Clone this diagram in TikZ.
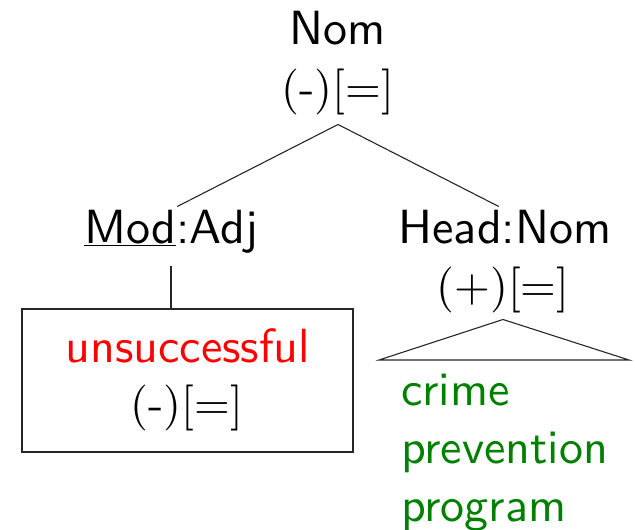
\documentclass[tikz,border=0pt]{standalone}
\usepackage{fontspec}
% 10pt design sizes, scaled up
\setsansfont{lmsans10-regular.otf}
\setmainfont{lmroman10-regular.otf}
\definecolor{leafgreen}{RGB}{0,128,0}
\definecolor{leafred}{RGB}{255,0,0}
\begin{document}
\begin{tikzpicture}[x=1pt,y=-1pt,
    tok/.style={inner sep=0pt, outer sep=0pt, font=\fontsize{48}{58}\selectfont\sffamily},
    feat/.style={inner sep=0pt, outer sep=0pt, font=\fontsize{46}{58}\selectfont\rmfamily},
    branch/.style={draw=black!85, line width=1.1pt},
    leafbox/.style={draw=black!85, line width=1.2pt, minimum width=331pt, minimum height=143pt, inner sep=0pt}]
  \useasboundingbox (0,0) rectangle (635,530);

  % root
  \node[tok, anchor=base] (rootcat) at (338,45) {Nom};
  \node[feat, anchor=base] (rootfeat) at (338,103) {(-)[=]};
  \coordinate (apex) at ([yshift=-10pt]rootfeat.south);

  % daughters
  \node[tok, anchor=base] (mod) at (171,243) {\underline{Mod}:Adj};
  \node[tok, anchor=base] (head) at (505,243) {Head:Nom};
  \node[feat, anchor=base] (headfeat) at (503,301) {(+)[=]};

  % boxed modifier
  \node[leafbox] (leaf) at (187.5,380.5) {};
  \node[tok, anchor=base, text=leafred] (adj) at (188,362) {unsuccessful};
  \node[feat, anchor=base] (adjfeat) at (187,419) {(-)[=]};

  % collapsed head
  \coordinate (tl) at (379,360);
  \coordinate (tr) at (629,360);
  \node[tok, anchor=base west, text=leafgreen] (w1) at (401,405) {crime};
  \node[tok, anchor=base west, text=leafgreen] (w2) at (401,463) {prevention};
  \node[tok, anchor=base west, text=leafgreen] (w3) at (401,521) {program};

  % branches
  \draw[branch, shorten >=7pt] (apex) -- (mod.north);
  \draw[branch, shorten >=7pt] (apex) -- (head.north);
  \draw[branch, shorten <=13pt] (mod.south) -- (mod.south |- leaf.north);
  \draw[branch, line join=miter] (tl) -- ([yshift=-7pt]headfeat.south) -- (tr) -- cycle;
\end{tikzpicture}
\end{document}
